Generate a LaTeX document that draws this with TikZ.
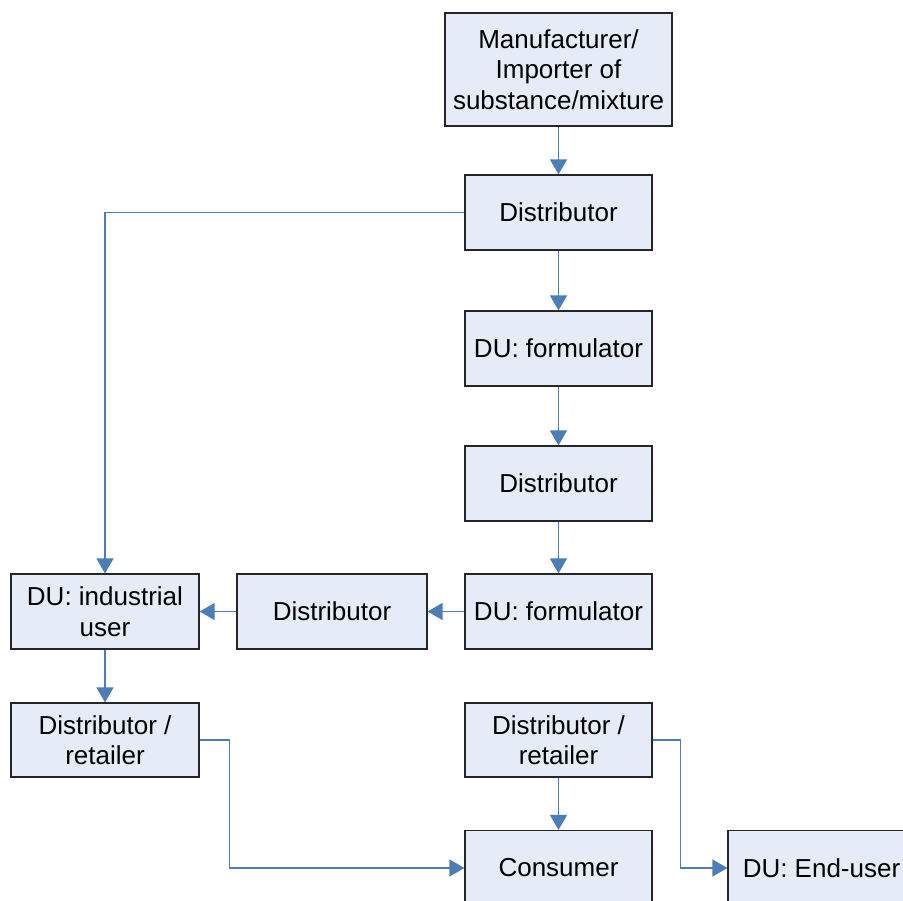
\documentclass[tikz,border=0pt]{standalone}
\usepackage{fontspec}
\setmainfont{Liberation Sans}
\usetikzlibrary{arrows.meta}
\definecolor{boxfill}{RGB}{230,236,247}
\definecolor{linkblue}{RGB}{74,126,187}
\begin{document}
\begin{tikzpicture}[x=1pt,y=-1pt,
  box/.style={draw=black!85, fill=boxfill, line width=1.2pt, minimum width=187pt,
    minimum height=75pt, align=center, inner sep=0pt,
    font=\fontsize{26}{30.5}\selectfont},
  link/.style={draw=linkblue, line width=1.3pt, -{Triangle[width=17pt,length=15pt]}}]
\fill[white] (0,0) rectangle (903,901);
\useasboundingbox (0,0) rectangle (903,901);
\clip (0,0) rectangle (903,901);
\node[box, minimum width=227pt, minimum height=113pt] (man) at (558.5,69.5) {Manufacturer/\\Importer of\\substance/mixture};
\node[box] (d1) at (558.5,212.5) {Distributor};
\node[box] (f1) at (558.5,348.5) {DU: formulator};
\node[box] (d2) at (558.5,483.5) {Distributor};
\node[box] (f2) at (558.5,611.5) {DU: formulator};
\node[box, minimum width=190pt] (dm) at (332,611.5) {Distributor};
\node[box, minimum width=188pt] (ind) at (105,611.5) {DU: industrial\\user};
\node[box, minimum width=188pt, minimum height=74pt] (rl) at (105,740) {Distributor /\\retailer};
\node[box, minimum height=74pt] (rr) at (558.5,740) {Distributor /\\retailer};
\node[box] (con) at (558.5,868) {Consumer};
\node[box] (eu) at (821.5,868) {DU: End-user};
\draw[link] (man) -- (d1);
\draw[link] (d1.west) -| (ind.north);
\draw[link] (d1) -- (f1);
\draw[link] (f1) -- (d2);
\draw[link] (d2) -- (f2);
\draw[link] (f2) -- (dm);
\draw[link] (dm) -- (ind);
\draw[link] (ind) -- (rl);
\draw[link] (rr) -- (con);
\draw[link] (rl.east) -- ++(30,0) |- (con.west);
\draw[link] (rr.east) -- ++(28,0) |- (eu.west);
\end{tikzpicture}
\end{document}
